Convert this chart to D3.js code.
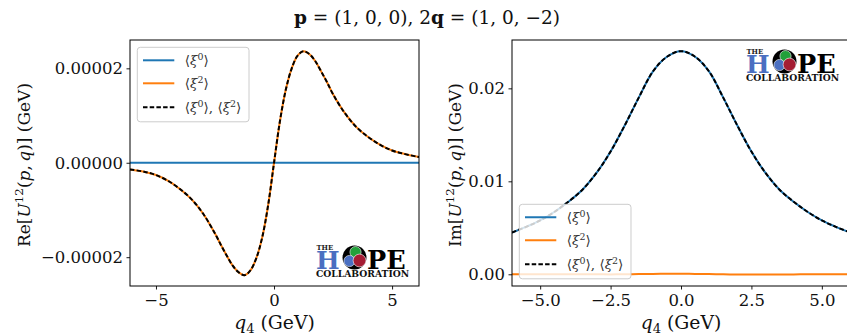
<!DOCTYPE html>
<html>
<head>
<meta charset="utf-8">
<script src="https://cdn.jsdelivr.net/npm/d3@7"></script>
<style>
  body { margin: 0; background: #fff; }
  svg { display: block; }
</style>
</head>
<body>
<div id="chart"></div>
<script>
// --- data ---
const reQ = [-6.1, -5.5, -5, -4.5, -4, -3.5, -3, -2.5, -2.25, -2, -1.75, -1.5, -1.25, -1, -0.75, -0.5, -0.25,
  0, 0.25, 0.5, 0.75, 1, 1.25, 1.5, 1.75, 2, 2.25, 2.5, 3, 3.5, 4, 4.5, 5, 5.5, 6.14];
const reXi0 = [0, 0, 0, 0, 0, 0, 0, 0, 0, 0, 0, 0, 0, 0, 0, 0, 0,
  0, 0, 0, 0, 0, 0, 0, 0, 0, 0, 0, 0, 0, 0, 0, 0, 0, 0];
const reXi2 = [-0.14e-5, -0.19e-5, -0.26e-5, -0.38e-5, -0.55e-5, -0.77e-5, -1.08e-5, -1.5e-5, -1.74e-5, -1.97e-5,
  -2.18e-5, -2.32e-5, -2.38e-5, -2.28e-5, -2.02e-5, -1.58e-5, -0.9e-5,
  0, 0.88e-5, 1.55e-5, 2.0e-5, 2.27e-5, 2.36e-5, 2.3e-5, 2.15e-5, 1.93e-5, 1.7e-5, 1.45e-5, 1.05e-5,
  0.75e-5, 0.54e-5, 0.38e-5, 0.26e-5, 0.19e-5, 0.12e-5];
const reTotal = [-0.14e-5, -0.19e-5, -0.26e-5, -0.38e-5, -0.55e-5, -0.77e-5, -1.08e-5, -1.5e-5, -1.74e-5, -1.97e-5,
  -2.18e-5, -2.32e-5, -2.38e-5, -2.28e-5, -2.02e-5, -1.58e-5, -0.9e-5,
  0, 0.88e-5, 1.55e-5, 2.0e-5, 2.27e-5, 2.36e-5, 2.3e-5, 2.15e-5, 1.93e-5, 1.7e-5, 1.45e-5, 1.05e-5,
  0.75e-5, 0.54e-5, 0.38e-5, 0.26e-5, 0.19e-5, 0.12e-5];

const imQ = [-6, -5.5, -5, -4.5, -4, -3.5, -3, -2.5, -2, -1.5, -1, -0.5, 0,
  0.5, 1, 1.5, 2, 2.5, 3, 3.5, 4, 4.5, 5, 5.5, 6];
const imXi0 = [0.0045, 0.0051, 0.0058, 0.0067, 0.0078, 0.0091, 0.0109, 0.0132, 0.0160, 0.0190, 0.0218, 0.0234, 0.0240,
  0.0234, 0.0218, 0.0190, 0.0160, 0.0132, 0.0109, 0.0091, 0.0078, 0.0067, 0.0058, 0.0051, 0.0045];
const imXi2 = [0, 0, 0, 0, 0, 0, 0, -0.00001, 0, 0.00002, 0.00004, 0.00005, 0.00005,
  0.00004, 0.00002, 0, -0.00002, -0.00003, -0.00003, -0.00002, -0.00001, 0, 0, 0, 0];
const imTotal = [0.0045, 0.0051, 0.0058, 0.0067, 0.0078, 0.0091, 0.0109, 0.0132, 0.0160, 0.0190, 0.0218, 0.0234, 0.0240,
  0.0234, 0.0218, 0.0190, 0.0160, 0.0132, 0.0109, 0.0091, 0.0078, 0.0067, 0.0058, 0.0051, 0.0045];

const reYTicks = [-0.00002, 0, 0.00002];
const reXTicks = [-5, 0, 5];
const imYTicks = [0, 0.01, 0.02];
const imXTicks = [-5, -2.5, 0, 2.5, 5];

const width = 847;
const height = 336;
const serif = '"DejaVu Serif", "Liberation Serif", serif';
const blue = '#1f77b4';
const orange = '#ff7f0e';

const svg = d3.select('#chart').append('svg')
  .attr('width', width)
  .attr('height', height)
  .attr('font-family', serif);

svg.append('rect').attr('width', width).attr('height', height).attr('fill', '#fff');

const minus = s => s.replace('-', '\u2212');

// writes math-ish text into a <text> node from parts
function rich(text, parts, size) {
  let shift = 0;
  parts.forEach(p => {
    const target = p.sup ? -0.4 * size : p.sub ? 0.22 * size : 0;
    const ts = text.append('tspan').text(p.t).attr('dy', target - shift);
    shift = target;
    if (p.sup || p.sub) ts.attr('font-size', size * 0.7);
    if (p.i) ts.attr('font-style', 'italic');
    if (p.b) ts.attr('font-weight', 'bold');
  });
}

function drawLogo(g) {
  g.append('circle').attr('cx', 38.5).attr('cy', 14).attr('r', 12).attr('fill', '#000');
  g.append('circle').attr('cx', 39.5).attr('cy', 8.6).attr('r', 5.6).attr('fill', '#22a03a')
    .attr('stroke', '#fff').attr('stroke-width', 0.6);
  g.append('circle').attr('cx', 33.5).attr('cy', 17.5).attr('r', 5.6).attr('fill', '#4a6fc1')
    .attr('stroke', '#fff').attr('stroke-width', 0.6);
  g.append('circle').attr('cx', 43.5).attr('cy', 17).attr('r', 6.4).attr('fill', '#a51d33')
    .attr('stroke', '#fff').attr('stroke-width', 0.6);
  const t = g.append('text').attr('font-weight', 'bold');
  t.append('tspan').attr('x', 0.5).attr('y', 6.5).attr('font-size', 6.8).attr('fill', '#222').text('THE');
  t.append('tspan').attr('x', 0).attr('y', 25.5).attr('font-size', 25).attr('fill', '#4a6fc1').text('H');
  t.append('tspan').attr('x', 51).attr('y', 25.5).attr('font-size', 25.5).attr('fill', '#000').text('PE');
  t.append('tspan').attr('x', 0).attr('y', 33.5).attr('font-size', 9.2).attr('fill', '#111').text('COLLABORATION');
}

function panel(opt) {
  const { left, right, top, bottom } = opt.box;
  const x = d3.scaleLinear().domain(opt.xDomain).range([left, right]);
  const y = d3.scaleLinear().domain(opt.yDomain).range([bottom, top]);
  const g = svg.append('g');

  const clipId = 'clip-' + opt.name;
  g.append('clipPath').attr('id', clipId)
    .append('rect').attr('x', left).attr('y', top).attr('width', right - left).attr('height', bottom - top);

  const line = (xs, ys) => d3.line()
    .x((d, i) => x(xs[i]))
    .y(d => y(d))
    .curve(d3.curveCatmullRom)(ys);

  const plot = g.append('g').attr('clip-path', `url(#${clipId})`);
  opt.series.forEach(s => {
    plot.append('path')
      .attr('d', line(opt.q, s.values))
      .attr('fill', 'none')
      .attr('stroke', s.color)
      .attr('stroke-width', 2)
      .attr('stroke-dasharray', s.dash ? '4.5,2.2' : null);
  });

  // axes
  const xAxis = g.append('g').attr('transform', `translate(0,${bottom})`)
    .call(d3.axisBottom(x).tickValues(opt.xTicks).tickFormat(opt.xFormat).tickSize(3.5).tickPadding(5).tickSizeOuter(0));
  const yAxis = g.append('g').attr('transform', `translate(${left},0)`)
    .call(d3.axisLeft(y).tickValues(opt.yTicks).tickFormat(opt.yFormat).tickSize(3.5).tickPadding(3.5).tickSizeOuter(0));
  [xAxis, yAxis].forEach(a => {
    a.attr('font-family', serif).attr('font-size', 16.5);
    a.select('.domain').remove();
    a.selectAll('.tick line').attr('stroke', '#000').attr('stroke-width', 0.9);
    a.selectAll('.tick text').attr('fill', '#111');
  });

  g.append('rect')
    .attr('x', left).attr('y', top).attr('width', right - left).attr('height', bottom - top)
    .attr('fill', 'none').attr('stroke', '#000').attr('stroke-width', 1);

  // axis labels
  rich(g.append('text').attr('x', (left + right) / 2).attr('y', 329).attr('text-anchor', 'middle')
    .attr('font-size', 18.8).attr('fill', '#111'), [{ t: 'q', i: 1 }, { t: '4', sub: 1 }, { t: ' (GeV)' }], 18.8);
  rich(g.append('text').attr('transform', `translate(${opt.yLabelX},${(top + bottom) / 2 + 2}) rotate(-90)`)
    .attr('text-anchor', 'middle').attr('font-size', 17).attr('fill', '#111'),
    [{ t: opt.part + '[' }, { t: 'U', i: 1 }, { t: '12', sup: 1 }, { t: '(' }, { t: 'p', i: 1 }, { t: ',\u2009' },
      { t: 'q', i: 1 }, { t: ')] (GeV)' }], 17);

  // legend
  const lg = g.append('g').attr('transform', `translate(${opt.legend[0]},${opt.legend[1]})`);
  lg.append('rect').attr('width', 111.7).attr('height', 74.5).attr('rx', 3)
    .attr('fill', '#fff').attr('fill-opacity', 0.8).attr('stroke', '#cccccc').attr('stroke-width', 1);
  const labels = [
    [{ t: '\u27E8' }, { t: '\u03BE', i: 1 }, { t: '0', sup: 1 }, { t: '\u27E9' }],
    [{ t: '\u27E8' }, { t: '\u03BE', i: 1 }, { t: '2', sup: 1 }, { t: '\u27E9' }],
    [{ t: '\u27E8' }, { t: '\u03BE', i: 1 }, { t: '0', sup: 1 }, { t: '\u27E9, \u27E8' }, { t: '\u03BE', i: 1 },
      { t: '2', sup: 1 }, { t: '\u27E9' }]
  ];
  const rows = [13, 36, 60];
  opt.series.forEach((s, i) => {
    lg.append('line').attr('x1', 5.7).attr('x2', 37).attr('y1', rows[i]).attr('y2', rows[i])
      .attr('stroke', s.color).attr('stroke-width', 2)
      .attr('stroke-dasharray', s.dash ? '4.5,2.2' : null);
    rich(lg.append('text').attr('x', 47.5).attr('y', rows[i] + 5).attr('font-size', 13.5).attr('fill', '#333'),
      labels[i], 13.5);
  });

  drawLogo(svg.append('g').attr('transform', `translate(${opt.logo[0]},${opt.logo[1]})`));
}

panel({
  name: 're',
  box: { left: 130, right: 419, top: 40, bottom: 286 },
  xDomain: [-6.1, 6.14],
  yDomain: [-2.61e-5, 2.6e-5],
  q: reQ,
  series: [
    { values: reXi0, color: blue },
    { values: reXi2, color: orange },
    { values: reTotal, color: '#000', dash: true }
  ],
  xTicks: reXTicks,
  yTicks: reYTicks,
  xFormat: d => minus(d3.format('d')(d)),
  yFormat: d => minus(d3.format('.5f')(d)),
  part: 'Re',
  yLabelX: 30,
  legend: [137.3, 47.3],
  logo: [316, 243.5]
});

panel({
  name: 'im',
  box: { left: 512, right: 850, top: 40, bottom: 286 },
  xDomain: [-6, 6],
  yDomain: [-0.00126, 0.0252],
  q: imQ,
  series: [
    { values: imXi0, color: blue },
    { values: imXi2, color: orange },
    { values: imTotal, color: '#000', dash: true }
  ],
  xTicks: imXTicks,
  yTicks: imYTicks,
  xFormat: d => minus(d3.format('.1f')(d)),
  yFormat: d => minus(d3.format('.2f')(d)),
  part: 'Im',
  yLabelX: 461,
  legend: [519.3, 204.3],
  logo: [746, 47.5]
});

// title
rich(svg.append('text').attr('x', 427).attr('y', 24).attr('text-anchor', 'middle').attr('font-size', 18.5)
  .attr('fill', '#111'),
  [{ t: 'p', b: 1 }, { t: ' = (1, 0, 0), 2' }, { t: 'q', b: 1 }, { t: ' = (1, 0, \u22122)' }], 18.5);
</script>
</body>
</html>
